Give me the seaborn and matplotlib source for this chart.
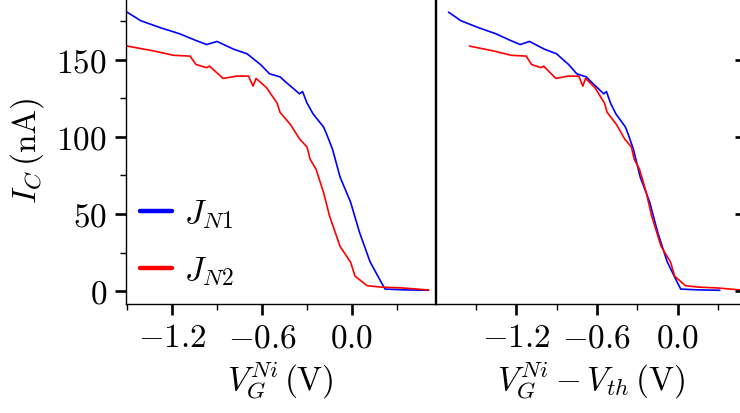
import numpy as np
import pandas as pd
import matplotlib
matplotlib.use("Agg")
import matplotlib.pyplot as plt
from matplotlib.ticker import MultipleLocator, FuncFormatter
import seaborn as sns

# Critical current vs gate voltage, two junctions
v_gate_n1 = [-1.50, -1.45, -1.41, -1.28, -1.15, -1.05, -0.97, -0.90, -0.79,
             -0.70, -0.61, -0.55, -0.48, -0.44, -0.35, -0.33, -0.30, -0.26,
             -0.19, -0.17, -0.13, -0.08, -0.01, 0.05, 0.12, 0.19, 0.22,
             0.34, 0.51]
ic_n1 = [181, 178, 175.5, 171, 167, 163, 160, 162, 157,
         154, 147, 141, 139, 135.5, 128, 129.5, 122, 115,
         106.5, 102, 92, 74, 57.8, 38, 19, 6.5, 1.3,
         0.8, 0.5]

v_gate_n2 = [-1.50, -1.33, -1.19, -1.08, -1.04, -0.97, -0.95, -0.86, -0.77,
             -0.69, -0.66, -0.64, -0.57, -0.50, -0.48, -0.41, -0.35, -0.30,
             -0.28, -0.24, -0.19, -0.15, -0.08, -0.01, 0.02, 0.10, 0.19,
             0.34, 0.51]
ic_n2 = [159, 156, 153, 152.5, 147, 145, 146, 138, 139.5,
         139.5, 133, 138, 132, 122, 116, 108, 98.7, 93.5,
         85.7, 79, 64, 48.7, 29, 18.8, 9.7, 3.5, 2.6,
         2.0, 0.7]

# threshold voltages used for the shifted panel
junctions = ["$J_{N1}$", "$J_{N2}$"]
v_th = [0.20, 0.045]
colors = {"$J_{N1}$": "#0000ff", "$J_{N2}$": "#ff0000"}

df = pd.concat([
    pd.DataFrame({"V": v_gate_n1, "Ic": ic_n1, "junction": junctions[0]}),
    pd.DataFrame({"V": v_gate_n2, "Ic": ic_n2, "junction": junctions[1]}),
], ignore_index=True)
df["V_shift"] = df["V"] - df["junction"].map(dict(zip(junctions, v_th)))

sns.set_style("ticks")
plt.rcParams.update({
    "font.family": "serif",
    "font.serif": ["cmr10"],
    "mathtext.fontset": "cm",
    "axes.formatter.use_mathtext": True,
    "axes.unicode_minus": True,
    "font.size": 24,
    "axes.linewidth": 1.0,
    "axes.edgecolor": "black",
    "axes.labelcolor": "black",
    "text.color": "black",
    "xtick.color": "black",
    "ytick.color": "black",
})

W, H = 740, 414
fig = plt.figure(figsize=(W / 100, H / 100), dpi=100)

bottom_px, top_px = 305, -3
ax_h = (bottom_px - top_px) / H
ax_b = (H - bottom_px) / H
ax1 = fig.add_axes([126 / W, ax_b, 309 / W, ax_h])
ax2 = fig.add_axes([436 / W, ax_b, 310 / W, ax_h])
ax3 = fig.add_axes([746 / W, ax_b, 300 / W, ax_h])

sns.lineplot(data=df, x="V", y="Ic", hue="junction", palette=colors,
             hue_order=junctions, lw=1.2, ax=ax1, legend=True)
sns.lineplot(data=df, x="V_shift", y="Ic", hue="junction", palette=colors,
             hue_order=junctions, lw=1.2, ax=ax2, legend=False)

tick_fmt = FuncFormatter(lambda v, p: "$0.0$" if abs(v) < 1e-9 else f"${v:.1f}$")

for ax in (ax1, ax2, ax3):
    ax.set_ylim(-8.4, 191.5)
    ax.yaxis.set_major_locator(MultipleLocator(50))
    ax.yaxis.set_minor_locator(MultipleLocator(25))
    ax.xaxis.set_major_locator(MultipleLocator(0.6))
    ax.xaxis.set_minor_locator(MultipleLocator(0.3))
    ax.tick_params(which="major", direction="out", length=7.8, width=1.9,
                   labelsize=24, pad=6)
    ax.tick_params(which="minor", direction="out", length=4.0, width=1.0)
    ax.xaxis.set_major_formatter(tick_fmt)

ax1.set_xlim(-1.507, 0.553)
ax2.set_xlim(-1.793, 0.504)
ax1.set_xticks([-1.2, -0.6, 0.0])
ax2.set_xticks([-1.2, -0.6, 0.0])

ax1.set_ylabel(r"$I_C\,(\mathrm{nA})$", fontsize=24, labelpad=7)
ax1.set_xlabel(r"$V_G^{Ni}\,(\mathrm{V})$", fontsize=24, labelpad=5)
ax2.set_xlabel(r"$V_G^{Ni} - V_{th}\,(\mathrm{V})$", fontsize=24, labelpad=5)
ax2.set_ylabel("")
ax2.tick_params(axis="y", which="both", left=False, labelleft=False)

# neighbouring panel, only its y ticks reach into the frame
ax3.set_xticks([])
ax3.tick_params(axis="x", which="both", bottom=False, labelbottom=False)
ax3.tick_params(axis="y", which="both", labelleft=False)
for s in ax3.spines.values():
    s.set_visible(False)

leg = ax1.legend(loc="lower left", bbox_to_anchor=(0.045, 0.055), frameon=False,
                 fontsize=24, handlelength=0.97, handletextpad=0.35,
                 labelspacing=0.72, borderaxespad=0, borderpad=0)
for line in leg.get_lines():
    line.set_linewidth(3.2)

fig.savefig("out.png", dpi=100)
